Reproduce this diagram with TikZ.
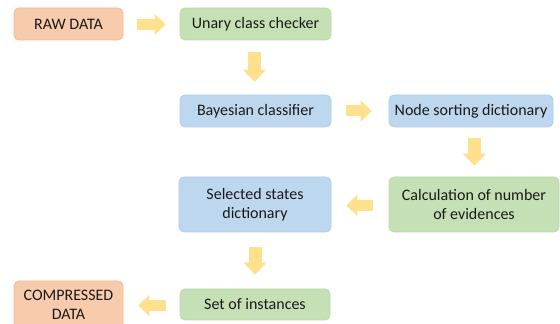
\documentclass[tikz,border=0pt]{standalone}
\usepackage{fontspec}
\setmainfont{Carlito}
\usetikzlibrary{arrows.meta}
\definecolor{orfill}{HTML}{F8CBAD}
\definecolor{ordraw}{HTML}{F4B98F}
\definecolor{grfill}{HTML}{C5E0B4}
\definecolor{grdraw}{HTML}{B9D8A5}
\definecolor{blfill}{HTML}{BDD7EE}
\definecolor{bldraw}{HTML}{B0CDE8}
\definecolor{arr}{HTML}{FFE08C}
\definecolor{txt}{HTML}{1A1A1A}
\tikzset{
  box/.style={rounded corners=5pt, line width=0.8pt, align=center, inner sep=0pt,
    font=\fontsize{16}{19}\selectfont, text=txt},
  orbox/.style={box, fill=orfill, draw=ordraw},
  grbox/.style={box, fill=grfill, draw=grdraw},
  blbox/.style={box, fill=blfill, draw=bldraw},
  blockarrow/.style={draw=arr, line width=11pt, -{Triangle[width=21pt, length=11pt, fill=arr]}},
  vblockarrow/.style={draw=arr, line width=13pt, -{Triangle[width=23pt, length=12pt, fill=arr]}}
}
\begin{document}
\begin{tikzpicture}[x=1pt,y=1pt]
\useasboundingbox (0,0) rectangle (560,324);
\node[orbox, minimum width=109pt, minimum height=32pt] (raw) at (68.5,300) {RAW DATA};
\node[grbox, minimum width=151pt, minimum height=32pt] (unary) at (255.5,300) {Unary class checker};
\node[blbox, minimum width=151pt, minimum height=32pt] (bayes) at (255.5,213) {Bayesian classifier};
\node[blbox, minimum width=164pt, minimum height=32pt] (sort) at (471,213) {Node sorting dictionary};
\node[grbox, minimum width=170pt, minimum height=55pt] (calc) at (474,119.5) {Calculation of number\\of evidences};
\node[blbox, minimum width=152pt, minimum height=55pt] (sel) at (255,119.5) {Selected states\\dictionary};
\node[grbox, minimum width=150pt, minimum height=31pt] (set) at (255,19.5) {Set of instances};
\node[orbox, minimum width=109pt, minimum height=48pt] (comp) at (68.5,19) {COMPRESSED\\DATA};

\draw[blockarrow] ([xshift=14pt,yshift=-0.5pt]raw.east) -- ([xshift=-14pt,yshift=-0.5pt]unary.west);
\draw[vblockarrow] ([xshift=-1pt,yshift=-12pt]unary.south) -- ([xshift=-1pt,yshift=13pt]bayes.north);
\draw[blockarrow] ([xshift=15pt]bayes.east) -- ([xshift=-17pt]sort.west);
\draw[vblockarrow] ([xshift=3.5pt,yshift=-11pt]sort.south) -- ([xshift=0.5pt,yshift=11pt]calc.north);
\draw[blockarrow] ([xshift=-16pt,yshift=-1pt]calc.west) -- ([xshift=15pt,yshift=-1pt]sel.east);
\draw[vblockarrow] ([yshift=-15pt]sel.south) -- ([yshift=14pt]set.north);
\draw[blockarrow] ([xshift=-14pt,yshift=-1pt]set.west) -- ([xshift=15pt,yshift=-0.5pt]comp.east);
\end{tikzpicture}
\end{document}
